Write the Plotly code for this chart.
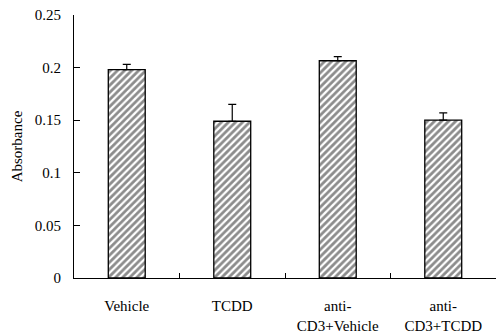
import plotly.graph_objects as go

categories = ["Vehicle", "TCDD", "anti-<br>CD3+Vehicle", "anti-<br>CD3+TCDD"]
values = [0.198, 0.149, 0.2065, 0.150]
errors = [0.005, 0.016, 0.004, 0.007]
y_ticks = [0, 0.05, 0.1, 0.15, 0.2, 0.25]
y_tick_labels = ["0", "0.05", "0.1", "0.15", "0.2", "0.25"]

font = "Liberation Serif, Times New Roman, serif"

fig = go.Figure(go.Bar(
    x=categories, y=values,
    width=0.35,
    marker=dict(
        color="white",
        line=dict(color="black", width=1.3),
        pattern=dict(shape="/", fgcolor="#1a1a1a", bgcolor="white", size=5, solidity=0.55),
    ),
    error_y=dict(type="data", array=errors, arrayminus=[0]*4, symmetric=False,
                 color="black", thickness=1.2, width=4),
))

fig.update_layout(
    width=497, height=335,
    margin=dict(l=74, r=1, t=15, b=57),
    plot_bgcolor="white", paper_bgcolor="white",
    showlegend=False,
    font=dict(family=font, size=15, color="black"),
    xaxis=dict(
        type="category", range=[-0.5, 3.5],
        showline=True, linecolor="black", linewidth=1.2,
        ticks="inside", ticklen=5, tickcolor="black", tickson="boundaries",
        showgrid=False, ticklabelstandoff=14,
        tickfont=dict(family=font, size=15),
    ),
    yaxis=dict(
        range=[0, 0.25], tickvals=y_ticks, ticktext=y_tick_labels,
        showline=True, linecolor="black", linewidth=1.2,
        ticks="inside", ticklen=6, tickcolor="black",
        showgrid=False, zeroline=False,
        title=dict(text="Absorbance", font=dict(family=font, size=15), standoff=8),
        tickfont=dict(family=font, size=15),
        ticklabelstandoff=9,
    ),
)

fig.write_html("out.html", config={"displayModeBar": False},
               post_script="document.body.style.margin='0';")
